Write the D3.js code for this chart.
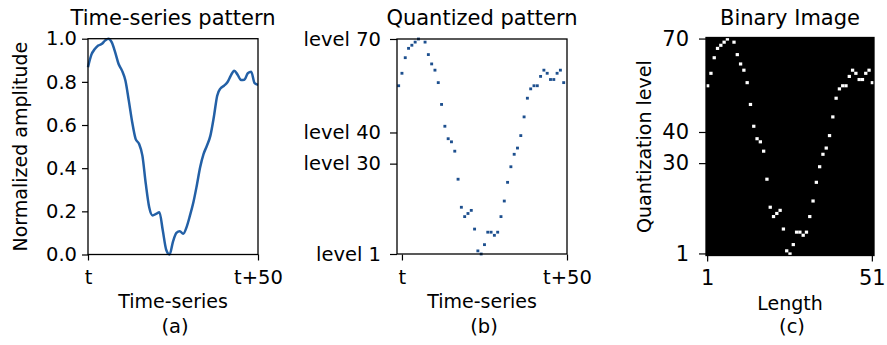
<!DOCTYPE html>
<html>
<head>
<meta charset="utf-8">
<script src="https://cdn.jsdelivr.net/npm/d3@7"></script>
<style>
    body { margin: 0; background: #fff; }
    svg text { font-family: "DejaVu Sans", sans-serif; fill: #000; }
</style>
</head>
<body>
<svg id="chart" width="887" height="345"></svg>
<script>
// normalized amplitude of the window t .. t+50 (panel a)
const amplitude = [
    0.868, 0.926, 0.952, 0.968, 0.975, 0.991, 1.0, 0.983, 0.937, 0.883,
    0.852, 0.806, 0.713, 0.613, 0.536, 0.513, 0.458, 0.327, 0.219, 0.181,
    0.188, 0.196, 0.111, 0.022, 0.0, 0.06, 0.10, 0.108, 0.096, 0.127,
    0.181, 0.242, 0.32, 0.405, 0.466, 0.505, 0.551, 0.636, 0.736, 0.770,
    0.782, 0.798, 0.829, 0.852, 0.833, 0.809, 0.81, 0.84, 0.847, 0.794, 0.786
];

// quantization level per column (panels b and c); column 7 is not drawn
const levels = [
    55, 59, 64, 67, 68, 69, 70, null, 69, 65,
    62, 60, 56, 49, 42, 38, 37, 34, 25, 16,
    13, 14, 15, 9, 2, 1, 4, 8, 8, 7,
    8, 13, 18, 24, 29, 33, 35, 39, 45, 51,
    54, 55, 55, 58, 60, 59, 57, 57, 59, 60, 56
];

const ampTicks = [0, 0.2, 0.4, 0.6, 0.8, 1.0];
const levelTicks = [1, 30, 40, 70];
const timeTicks = [0, 50];
const timeTickLabels = ["t", "t+50"];
const nLevels = 70;

const titles = ["Time-series pattern", "Quantized pattern", "Binary Image"];
const xLabels = ["Time-series", "Time-series", "Length"];
const captions = ["(a)", "(b)", "(c)"];

const svg = d3.select("#chart");
const plotTop = 38.7, plotBottom = 254.5;

function styleAxis(g, size) {
    g.select(".domain").remove();
    g.selectAll(".tick line").attr("stroke", "#000").attr("stroke-width", 1.2);
    g.selectAll(".tick text")
        .attr("font-size", size)
        .attr("font-family", "DejaVu Sans, sans-serif")
        .attr("fill", "#000");
}

function addTexts(x0, x1, i, xLabelY) {
    const cx = (x0 + x1) / 2;
    svg.append("text").attr("x", cx).attr("y", 25)
        .attr("text-anchor", "middle").attr("font-size", 21).text(titles[i]);
    svg.append("text").attr("x", cx).attr("y", xLabelY)
        .attr("text-anchor", "middle").attr("font-size", 19).text(xLabels[i]);
    svg.append("text").attr("x", cx + 2).attr("y", 333)
        .attr("text-anchor", "middle").attr("font-size", 19.5).text(captions[i]);
}

function frame(x0, x1, y0, y1) {
    svg.append("rect")
        .attr("x", x0).attr("y", y0)
        .attr("width", x1 - x0).attr("height", y1 - y0)
        .attr("fill", "none").attr("stroke", "#000").attr("stroke-width", 1.3);
}

// ---- (a) time-series line
{
    const x = d3.scaleLinear().domain([0, 50]).range([88, 258]);
    const y = d3.scaleLinear().domain([0, 1]).range([plotBottom, plotTop]);

    svg.append("g").attr("transform", `translate(0,${plotBottom})`)
        .call(d3.axisBottom(x).tickValues(timeTicks).tickSize(6).tickPadding(10)
            .tickFormat((d, i) => timeTickLabels[i]))
        .call(g => styleAxis(g, 19.5));
    svg.append("g").attr("transform", "translate(88,0)")
        .call(d3.axisLeft(y).tickValues(ampTicks).tickSize(6).tickPadding(5)
            .tickFormat(d3.format(".1f")))
        .call(g => styleAxis(g, 19.5));

    svg.append("path")
        .datum(amplitude)
        .attr("fill", "none")
        .attr("stroke", "#2360a6")
        .attr("stroke-width", 2.5)
        .attr("stroke-linejoin", "round")
        .attr("d", d3.line().curve(d3.curveMonotoneX).x((d, i) => x(i)).y(d => y(d)));

    frame(88, 258, plotTop, plotBottom);
    addTexts(88, 258, 0, 308);

    svg.append("text")
        .attr("transform", `translate(27,${(plotTop + plotBottom) / 2}) rotate(-90)`)
        .attr("text-anchor", "middle").attr("font-size", 19)
        .text("Normalized amplitude");
}

// ---- (b) quantized points
{
    const x = d3.scaleLinear().domain([-0.5, 51]).range([397, 567]);
    const y = d3.scaleLinear().domain([1, nLevels]).range([254, 39]);
    const w = x(1) - x(0);

    svg.append("g").attr("transform", `translate(0,${plotBottom})`)
        .call(d3.axisBottom(x).tickValues([1, 51]).tickSize(6).tickPadding(10)
            .tickFormat((d, i) => timeTickLabels[i]))
        .call(g => styleAxis(g, 19.5));
    svg.append("g").attr("transform", "translate(397,0)")
        .call(d3.axisLeft(y).tickValues(levelTicks).tickSize(7).tickPadding(9)
            .tickFormat(d => "level " + d))
        .call(g => styleAxis(g, 19.5));

    svg.append("g").selectAll("rect")
        .data(levels.map((l, i) => ({ i, l })).filter(d => d.l !== null))
        .join("rect")
        .attr("x", d => x(d.i) - w / 2 + 0.2)
        .attr("y", d => y(d.l) - 1.4)
        .attr("width", w - 0.4)
        .attr("height", 2.8)
        .attr("fill", "#1d4f8e");

    frame(397, 567, 39, 254);
    addTexts(397, 567, 1, 308);
}

// ---- (c) binary image
{
    const cols = d3.range(levels.length);
    const rows = d3.range(nLevels, 0, -1);
    const x = d3.scaleBand().domain(cols).range([706, 874]);
    const y = d3.scaleBand().domain(rows).range([37.5, 255.5]);

    svg.append("rect")
        .attr("x", 706).attr("y", 37.5)
        .attr("width", 168).attr("height", 218)
        .attr("fill", "#000");

    svg.append("g").selectAll("rect")
        .data(levels.map((l, i) => ({ i, l })).filter(d => d.l !== null))
        .join("rect")
        .attr("x", d => x(d.i))
        .attr("y", d => y(d.l))
        .attr("width", x.bandwidth())
        .attr("height", y.bandwidth())
        .attr("fill", "#fff");

    svg.append("g").attr("transform", "translate(0,255.5)")
        .call(d3.axisBottom(x).tickValues([0, 50]).tickSize(6).tickPadding(9)
            .tickFormat(d => d + 1))
        .call(g => styleAxis(g, 21));
    svg.append("g").attr("transform", "translate(706,0)")
        .call(d3.axisLeft(y).tickValues(levelTicks).tickSize(7).tickPadding(10))
        .call(g => styleAxis(g, 21));

    frame(706, 874, 37.5, 255.5);
    addTexts(706, 874, 2, 310);

    svg.append("text")
        .attr("transform", `translate(651,${(plotTop + plotBottom) / 2}) rotate(-90)`)
        .attr("text-anchor", "middle").attr("font-size", 19)
        .text("Quantization level");
}
</script>
</body>
</html>
